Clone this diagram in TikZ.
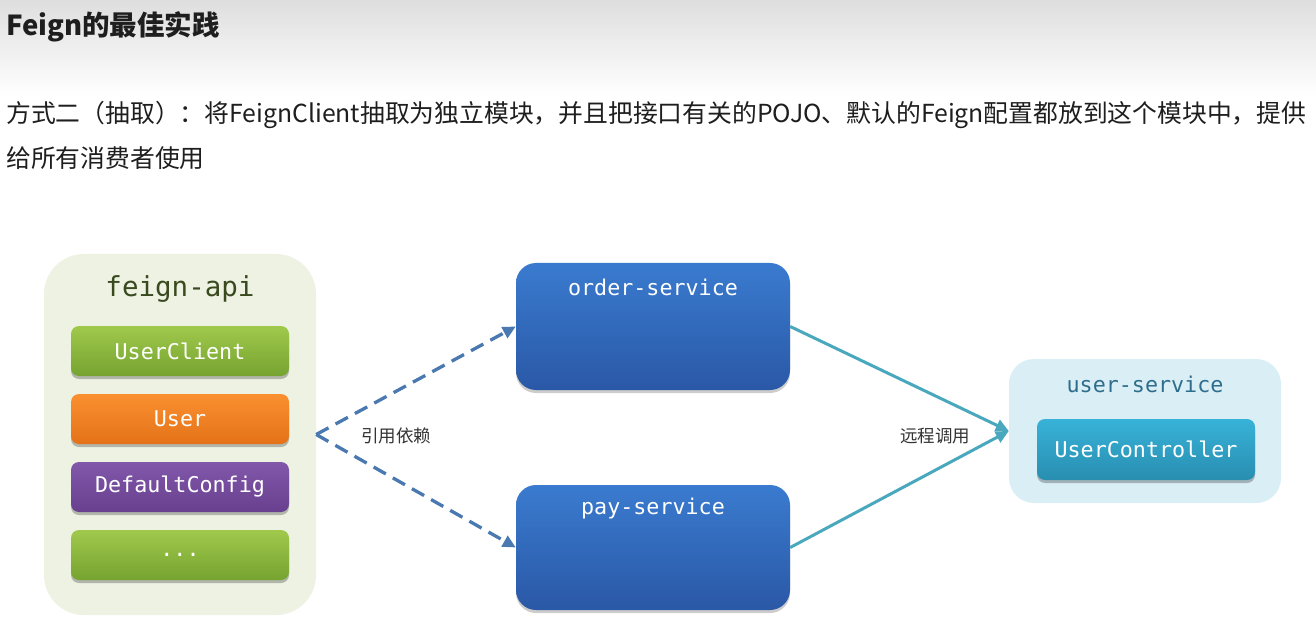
\documentclass[tikz,border=0pt]{standalone}
\usepackage{fontspec}
\setmainfont{Noto Sans CJK SC}
\setmonofont{DejaVu Sans Mono}
\usetikzlibrary{arrows.meta,shadows}
\definecolor{hdrtop}{HTML}{DEDEDE}
\definecolor{txtc}{HTML}{1E1E1E}
\definecolor{lblc}{HTML}{333333}
\definecolor{apibg}{HTML}{EDF2E3}
\definecolor{apititle}{HTML}{3A4A1F}
\definecolor{grtop}{HTML}{A0C94C}
\definecolor{grbot}{HTML}{76A330}
\definecolor{ortop}{HTML}{FA9030}
\definecolor{orbot}{HTML}{E47218}
\definecolor{putop}{HTML}{8158AA}
\definecolor{pubot}{HTML}{693F8F}
\definecolor{bltop}{HTML}{3A7BCF}
\definecolor{blbot}{HTML}{2A58A6}
\definecolor{usbg}{HTML}{DAEEF6}
\definecolor{ustitle}{HTML}{2E6E8C}
\definecolor{cytop}{HTML}{38B2D8}
\definecolor{cybot}{HTML}{288EB0}
\definecolor{dashc}{HTML}{4A78B0}
\definecolor{callc}{HTML}{4AA8BE}
\tikzset{
  container/.style={rectangle, rounded corners=#1, inner sep=0pt},
  itembox/.style={rectangle, rounded corners=8pt, inner sep=0pt,
    minimum width=218pt, minimum height=50pt,
    font=\ttfamily\fontsize{21.7}{24}\selectfont, text=white,
    drop shadow={shadow xshift=0pt, shadow yshift=-3pt, opacity=0.25, fill=black}},
  svcbox/.style={rectangle, rounded corners=20pt, inner sep=0pt,
    minimum width=274pt, top color=bltop, bottom color=blbot,
    drop shadow={shadow xshift=0pt, shadow yshift=-3pt, opacity=0.2, fill=black}},
  monotxt/.style={font=\ttfamily\fontsize{21.7}{24}\selectfont, inner sep=0pt},
  lbl/.style={font=\fontsize{17.5}{20}\selectfont, text=lblc, inner sep=0pt},
  deparrow/.style={draw=dashc, line width=3.3pt, dash pattern=on 14pt off 8pt,
    -{Triangle[length=13pt,width=12pt]}},
  callarrow/.style={draw=callc, line width=3pt,
    -{Triangle[length=13pt,width=12pt]}}
}
\begin{document}
\begin{tikzpicture}[x=1pt,y=-1pt]
\useasboundingbox (0,0) rectangle (1316,617);
\fill[white] (0,0) rectangle (1316,617);
\shade[top color=hdrtop, bottom color=white] (0,0) rectangle (1316,95);

\node[anchor=west, inner sep=0pt, text=txtc, font=\bfseries\fontsize{27.5}{30}\selectfont] (title) at (6,27) {Feign的最佳实践};
\node[anchor=west, inner sep=0pt, text=txtc, font=\fontsize{24.8}{28}\selectfont] (line1) at (6,115) {方式二（抽取）：将FeignClient抽取为独立模块，并且把接口有关的POJO、默认的Feign配置都放到这个模块中，提供};
\node[anchor=west, inner sep=0pt, text=txtc, font=\fontsize{24.8}{28}\selectfont] (line2) at (6,158) {给所有消费者使用};

% feign-api
\node[container=40pt, fill=apibg, minimum width=272pt, minimum height=361pt] (fa) at (180,434.5) {};
\node[inner sep=0pt, text=apititle, font=\ttfamily\fontsize{27.5}{30}\selectfont] (fat) at (180,289) {feign-api};
\node[itembox, top color=grtop, bottom color=grbot] (b1) at (180,351) {UserClient};
\node[itembox, top color=ortop, bottom color=orbot] (b2) at (180,419) {User};
\node[itembox, top color=putop, bottom color=pubot] (b3) at (180,487) {DefaultConfig};
\node[itembox, top color=grtop, bottom color=grbot] (b4) at (180,555) {...};

% services
\node[svcbox, minimum height=127pt] (order) at (653,326.5) {};
\node[monotxt, text=white] (ordert) at (653,287) {order-service};
\node[svcbox, minimum height=125pt] (pay) at (653,547.5) {};
\node[monotxt, text=white] (payt) at (653,509) {pay-service};

% user-service
\node[container=25pt, fill=usbg, minimum width=272pt, minimum height=144pt] (us) at (1145,431) {};
\node[monotxt, text=ustitle] (ust) at (1145,384) {user-service};
\node[itembox, minimum height=61pt, top color=cytop, bottom color=cybot] (uc) at (1146,449.5) {UserController};

% connectors
\draw[deparrow] (fa.east) -- (order.west);
\draw[deparrow] (fa.east) -- (pay.west);
\node[lbl] (dep) at (396,436) {引用依赖};
\draw[callarrow] (order.east) -- (us.west);
\draw[callarrow] (pay.east) -- (us.west);
\node[lbl] (call) at (935,436) {远程调用};
\end{tikzpicture}
\end{document}
